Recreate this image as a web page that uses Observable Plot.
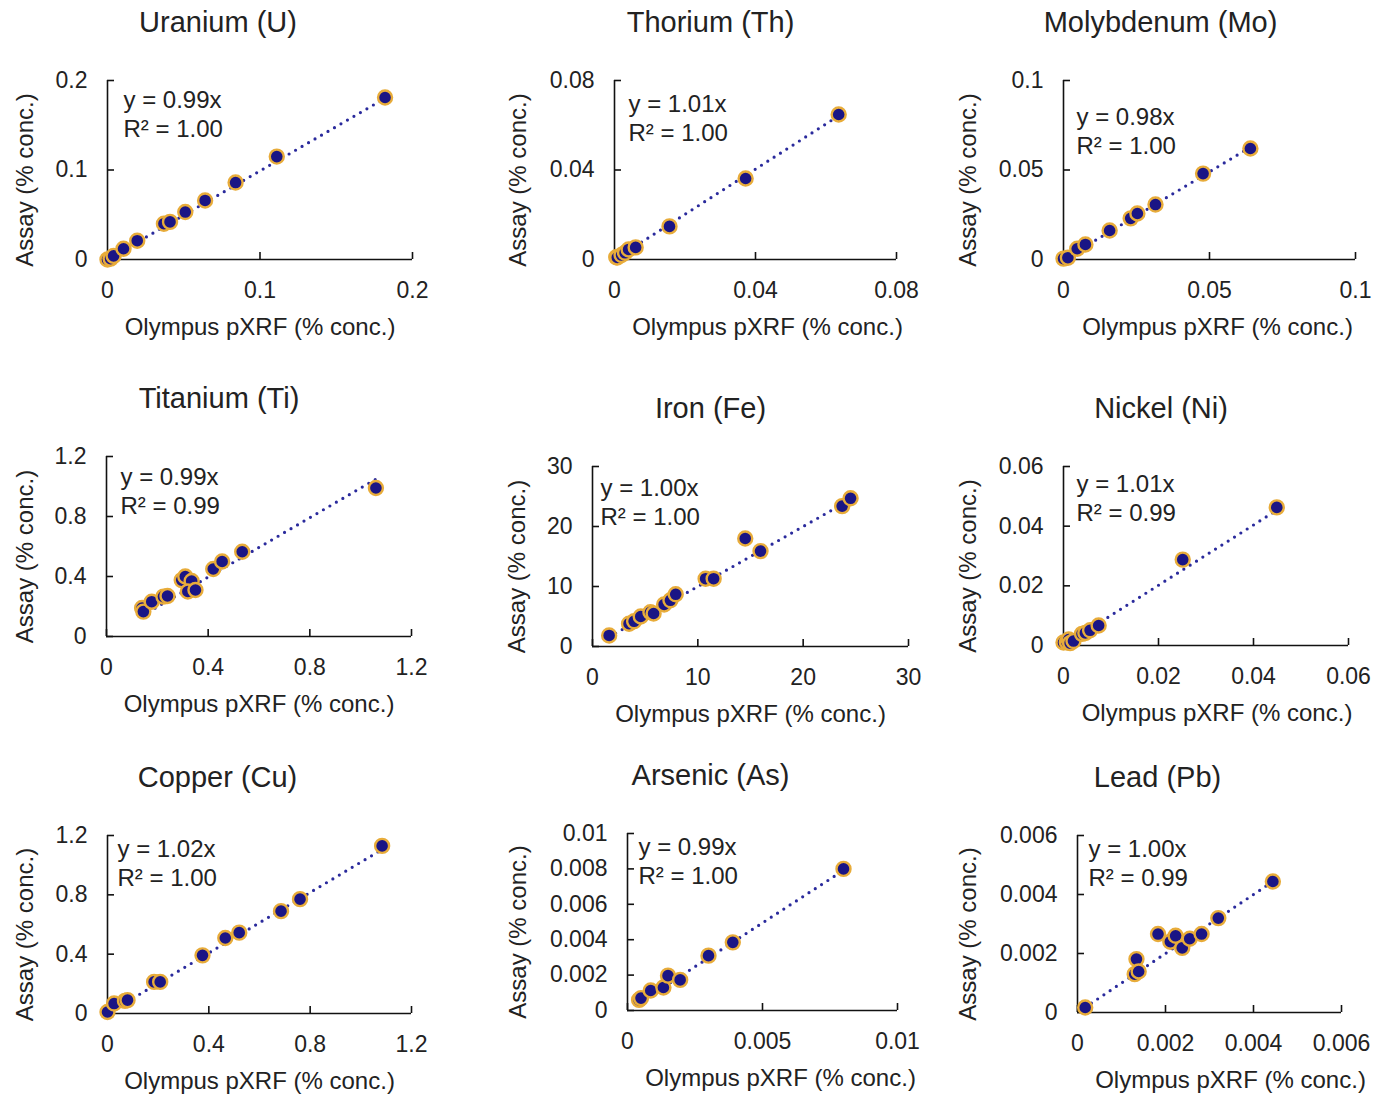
<!DOCTYPE html>
<html><head><meta charset="utf-8">
<script src="https://cdn.jsdelivr.net/npm/d3@7"></script>
<script src="https://cdn.jsdelivr.net/npm/@observablehq/plot@0.6"></script>
<style>
body{margin:0;background:#fff;}
#root{position:relative;width:1390px;height:1094px;overflow:hidden;background:#fff;}
</style></head><body><div id="root"></div>
<script>
// ---- data ----
const titles = ["Uranium (U)","Thorium (Th)","Molybdenum (Mo)","Titanium (Ti)","Iron (Fe)","Nickel (Ni)","Copper (Cu)","Arsenic (As)","Lead (Pb)"];
const xLabel = "Olympus pXRF (% conc.)";
const yLabel = "Assay (% conc.)";
const slopes = [0.99, 1.01, 0.98, 0.99, 1.00, 1.01, 1.02, 0.99, 1.00];
const r2s    = [1.00, 1.00, 1.00, 0.99, 1.00, 0.99, 1.00, 1.00, 0.99];
const axisMax = [0.2, 0.08, 0.1, 1.2, 30, 0.06, 1.2, 0.01, 0.006];
const xTicks = [[0,0.1,0.2],[0,0.04,0.08],[0,0.05,0.1],[0,0.4,0.8,1.2],[0,10,20,30],[0,0.02,0.04,0.06],[0,0.4,0.8,1.2],[0,0.005,0.01],[0,0.002,0.004,0.006]];
const yTicks = [[0,0.1,0.2],[0,0.04,0.08],[0,0.05,0.1],[0,0.4,0.8,1.2],[0,10,20,30],[0,0.02,0.04,0.06],[0,0.4,0.8,1.2],[0,0.002,0.004,0.006,0.008,0.01],[0,0.002,0.004,0.006]];

const uX  = [0, 0.002, 0.004, 0.0105, 0.0195, 0.037, 0.041, 0.051, 0.064, 0.084, 0.111, 0.182];
const uY  = [0, 0.001, 0.004, 0.012, 0.021, 0.040, 0.042, 0.053, 0.066, 0.086, 0.115, 0.181];
const thX = [0.0005, 0.0008, 0.002, 0.003, 0.004, 0.006, 0.0156, 0.0372, 0.0636];
const thY = [0.001, 0.0009, 0.002, 0.003, 0.0045, 0.0054, 0.0148, 0.0362, 0.0648];
const moX = [0, 0.0015, 0.0047, 0.0075, 0.0158, 0.023, 0.0253, 0.0315, 0.0478, 0.064];
const moY = [0.0005, 0.001, 0.006, 0.0084, 0.0162, 0.023, 0.0257, 0.0307, 0.048, 0.062];
const tiX = [0.14, 0.145, 0.178, 0.224, 0.24, 0.296, 0.31, 0.335, 0.32, 0.35, 0.42, 0.455, 0.534, 1.06];
const tiY = [0.19, 0.166, 0.232, 0.266, 0.27, 0.376, 0.40, 0.37, 0.30, 0.31, 0.45, 0.50, 0.565, 0.99];
const feX = [1.58, 3.47, 3.95, 4.58, 5.5, 5.8, 6.8, 7.4, 7.9, 10.74, 11.5, 14.5, 15.95, 23.7, 24.5];
const feY = [1.84, 3.8, 4.2, 5.0, 5.7, 5.5, 7.0, 7.7, 8.7, 11.3, 11.3, 18.0, 15.9, 23.4, 24.7];
const niX = [0, 0.0007, 0.0011, 0.0014, 0.0021, 0.0039, 0.0046, 0.0056, 0.0074, 0.0251, 0.0449];
const niY = [0.001, 0.0011, 0.002, 0.0008, 0.0015, 0.0039, 0.0042, 0.0051, 0.0067, 0.0288, 0.0463];
const cuX = [0, 0.026, 0.069, 0.079, 0.184, 0.208, 0.375, 0.465, 0.52, 0.685, 0.76, 1.084];
const cuY = [0.01, 0.067, 0.085, 0.09, 0.213, 0.213, 0.392, 0.509, 0.545, 0.69, 0.771, 1.13];
const asX = [0.00043, 0.0005, 0.00086, 0.00133, 0.0015, 0.00195, 0.003, 0.0039, 0.008];
const asY = [0.0006, 0.0007, 0.00113, 0.0013, 0.00197, 0.00173, 0.0031, 0.00385, 0.008];
const pbX = [0.000175, 0.0013, 0.00134, 0.00139, 0.00183, 0.00211, 0.00223, 0.00238, 0.00255, 0.00282, 0.0032, 0.00444];
const pbY = [0.00017, 0.0013, 0.00181, 0.00139, 0.00266, 0.0024, 0.0026, 0.00219, 0.0025, 0.00266, 0.0032, 0.00444];

const seriesX = [uX, thX, moX, tiX, feX, niX, cuX, asX, pbX];
const seriesY = [uY, thY, moY, tiY, feY, niY, cuY, asY, pbY];

// ---- layout (page pixels) ----
// frame: [left(x=0), right(x=max), top(y=max), bottom(y=0)]
const frames = [[107,412,80,259],[614,896,80,259],[1063,1355,80,259],
                [106,411,456,636],[592,908,466,646],[1063,1348,466,645],
                [107,411,835,1013],[627,897,833,1010],[1077,1341,835,1012]];
const titleDx  = [-42,-45,-49,-40,-40,-45,-42,-52,-52];
const xLabelDx = [0,12,8,0,0,11,0,18,21];
const yLabelDx = [-82,-96,-95,-81,-75,-95,-82,-109,-109];
const eqPos = [[16,20],[14,24],[13,37],[14,21],[8,22],[13,18],[10,14],[11,14],[11,14]];

const FONT = "'Liberation Sans', Arial, Helvetica, sans-serif";
const TEXT = "#222";
const root = document.getElementById("root");

for (let i = 0; i < 9; i++) {
  const [L, R, T, B] = frames[i];
  const fw = R - L, fh = B - T;
  const mL = 125, mR = 45, mT = 80, mB = 95;
  const xs = seriesX[i], ys = seriesY[i];
  const pts = xs.map((x, j) => ({x, y: ys[j]}));
  const trend = d3.extent(xs).map(x => ({x, y: slopes[i] * x}));
  const max = axisMax[i];
  const fmt = d => String(d);
  const [ex, ey] = eqPos[i];
  const svg = Plot.plot({
    width: fw + mL + mR, height: fh + mT + mB,
    marginLeft: mL, marginRight: mR, marginTop: mT, marginBottom: mB,
    style: {fontFamily: FONT, fontSize: "23px", color: TEXT, background: "transparent", overflow: "visible"},
    x: {domain: [0, max], ticks: xTicks[i], tickSize: 0, tickPadding: 22, tickFormat: fmt, label: null},
    y: {domain: [0, max], ticks: yTicks[i], tickSize: 0, tickPadding: 20, tickFormat: fmt, label: null},
    marks: [
      Plot.ruleX([0], {stroke: "#111", strokeWidth: 1.6}),
      Plot.ruleY([0], {stroke: "#111", strokeWidth: 1.6}),
      Plot.tickX(xTicks[i], {x: d => d, insetTop: fh - 7, stroke: "#111", strokeWidth: 1.6}),
      Plot.tickY(yTicks[i], {y: d => d, insetRight: fw - 7, stroke: "#111", strokeWidth: 1.6}),
      Plot.line(trend, {x: "x", y: "y", stroke: "#2a2a9c", strokeWidth: 3.2, strokeDasharray: "0,7.5", strokeLinecap: "round"}),
      Plot.dot(pts, {x: "x", y: "y", r: 7, fill: "#1a1585", stroke: "#e8ac3a", strokeWidth: 2.4}),
      Plot.text([`y = ${slopes[i].toFixed(2)}x`], {frameAnchor: "top-left", dx: ex, dy: ey, textAnchor: "start", lineAnchor: "middle", fontSize: 24, fill: TEXT}),
      Plot.text([`R² = ${r2s[i].toFixed(2)}`], {frameAnchor: "top-left", dx: ex, dy: ey + 29, textAnchor: "start", lineAnchor: "middle", fontSize: 24, fill: TEXT}),
      Plot.text([titles[i]], {frameAnchor: "top", dx: titleDx[i], dy: -58, textAnchor: "middle", lineAnchor: "middle", fontSize: 29, fill: TEXT}),
      Plot.text([xLabel], {frameAnchor: "bottom", dx: xLabelDx[i], dy: 68, textAnchor: "middle", lineAnchor: "middle", fontSize: 24, fill: TEXT}),
      Plot.text([yLabel], {frameAnchor: "left", rotate: -90, dx: yLabelDx[i], dy: 10, textAnchor: "middle", lineAnchor: "middle", fontSize: 24, fill: TEXT})
    ]
  });
  svg.style.position = "absolute";
  svg.style.left = (L - mL) + "px";
  svg.style.top = (T - mT) + "px";
  svg.style.maxWidth = "none";
  root.appendChild(svg);
}
</script>
</body></html>
